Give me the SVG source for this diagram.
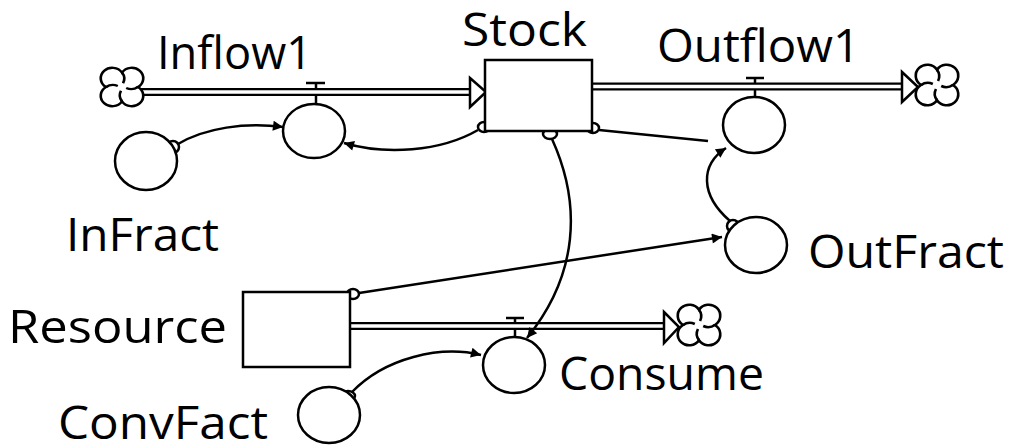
<svg xmlns="http://www.w3.org/2000/svg" width="1015" height="445" viewBox="0 0 1015 445">
<style>
.lbl{font-family:"Open Sans","DejaVu Sans","Liberation Sans",sans-serif;font-size:46px;fill:#000}
.sh{fill:#fff;stroke:#000;stroke-width:2.5}
.ln{fill:none;stroke:#000;stroke-width:2.5}
.pipeO{fill:none;stroke:#000;stroke-width:8}
.pipeI{fill:none;stroke:#fff;stroke-width:3.5}
.src{fill:#fff;stroke:#000;stroke-width:2.5}
</style>
<defs>
<marker id="arr" viewBox="0 0 10 10" refX="10" refY="5" markerWidth="13" markerHeight="10" markerUnits="userSpaceOnUse" orient="auto">
<path d="M0,0 L10,5 L0,10 z" fill="#000"/>
</marker>
<g id="cloud">
<path class="src" d="M-15.2,0 A11,11 0 1 1 0,-15.2 A11,11 0 1 1 15.2,0 A11,11 0 1 1 0,15.2 A11,11 0 1 1 -15.2,0 Z"/>
<path class="ln" d="M0,-15.2 A11,11 0 0 1 1,-4 M15.2,0 A11,11 0 0 1 4,1 M0,15.2 A11,11 0 0 1 -1,4 M-15.2,0 A11,11 0 0 1 -4,-1"/>
</g>
</defs>
<rect width="1015" height="445" fill="#fff"/>

<g id="flows">
<g id="inflow1-pipe">
<line class="ln" x1="316" y1="83" x2="316" y2="105"/>
<line class="ln" x1="306" y1="83" x2="325" y2="83"/>
<line class="pipeO" x1="140" y1="92" x2="472" y2="92"/>
<line class="pipeI" x1="138" y1="92" x2="474" y2="92"/>
<path class="sh" d="M470,78 L486,92 L470,107 Z"/>
<use href="#cloud" transform="translate(122,87) scale(1.05,0.95)"/>
</g>
<g id="outflow1-pipe">
<line class="ln" x1="755" y1="78" x2="755" y2="97"/>
<line class="ln" x1="746" y1="78" x2="764" y2="78"/>
<line class="pipeO" x1="592" y1="86.5" x2="904" y2="86.5"/>
<line class="pipeI" x1="593" y1="86.5" x2="906" y2="86.5"/>
<path class="sh" d="M902,72 L918,87 L902,102 Z"/>
<use href="#cloud" transform="translate(937,85) scale(1.05,1)"/>
</g>
<g id="consume-pipe">
<line class="ln" x1="515" y1="318" x2="515" y2="337"/>
<line class="ln" x1="506" y1="318" x2="524" y2="318"/>
<line class="pipeO" x1="350" y1="326" x2="666" y2="326"/>
<line class="pipeI" x1="351" y1="326" x2="668" y2="326"/>
<path class="sh" d="M664,312 L679,327 L664,343 Z"/>
<use href="#cloud" transform="translate(699,325) scale(1.05,1)"/>
</g>
</g>

<g id="connectors">
<path class="ln" d="M178,144 C205,128 245,122 283,127" marker-end="url(#arr)"/>
<path class="ln" d="M478,130 C440,152 385,155 344,143" marker-end="url(#arr)"/>
<path class="ln" d="M599,130 L708,141"/>
<path class="ln" d="M730,221 C700,195 700,165 726,148" marker-end="url(#arr)"/>
<path class="ln" d="M552,139 C582,205 578,275 527,338" marker-end="url(#arr)"/>
<path class="ln" d="M359,293 L722,237" marker-end="url(#arr)"/>
<path class="ln" d="M352,392 C385,358 440,345 481,355" marker-end="url(#arr)"/>
<ellipse class="ln" cx="173" cy="147" rx="6" ry="6"/>
<ellipse class="ln" cx="484" cy="127" rx="6" ry="5"/>
<ellipse class="ln" cx="593" cy="128" rx="6" ry="5"/>
<ellipse class="ln" cx="550" cy="134" rx="7" ry="5"/>
<ellipse class="ln" cx="733" cy="226" rx="6" ry="6"/>
<ellipse class="ln" cx="353" cy="294" rx="6" ry="5"/>
<ellipse class="ln" cx="348" cy="396" rx="7" ry="5"/>
</g>

<g id="Stock">
<rect class="sh" x="485" y="60" width="107" height="71"/>
<text class="lbl" x="462" y="46" textLength="125" lengthAdjust="spacingAndGlyphs">Stock</text>
</g>
<g id="Inflow1">
<ellipse class="sh" cx="314" cy="131" rx="31" ry="27"/>
<text class="lbl" x="157" y="69" textLength="155" lengthAdjust="spacingAndGlyphs">Inflow1</text>
</g>
<g id="Outflow1">
<ellipse class="sh" cx="754" cy="125" rx="31" ry="28"/>
<text class="lbl" x="657" y="62" textLength="203" lengthAdjust="spacingAndGlyphs">Outflow1</text>
</g>
<g id="InFract">
<ellipse class="sh" cx="146" cy="161" rx="31" ry="29"/>
<text class="lbl" x="66" y="251" textLength="153" lengthAdjust="spacingAndGlyphs">InFract</text>
</g>
<g id="OutFract">
<ellipse class="sh" cx="756" cy="245" rx="31" ry="28"/>
<text class="lbl" x="808" y="268" textLength="196" lengthAdjust="spacingAndGlyphs">OutFract</text>
</g>
<g id="Resource">
<rect class="sh" x="243" y="292" width="107" height="75"/>
<text class="lbl" x="8" y="343" textLength="219" lengthAdjust="spacingAndGlyphs">Resource</text>
</g>
<g id="Consume">
<ellipse class="sh" cx="514" cy="365" rx="31" ry="28"/>
<text class="lbl" x="559" y="390" textLength="205" lengthAdjust="spacingAndGlyphs">Consume</text>
</g>
<g id="ConvFact">
<ellipse class="sh" cx="329" cy="415" rx="31" ry="28"/>
<text class="lbl" x="58" y="439" textLength="210" lengthAdjust="spacingAndGlyphs">ConvFact</text>
</g>
</svg>
